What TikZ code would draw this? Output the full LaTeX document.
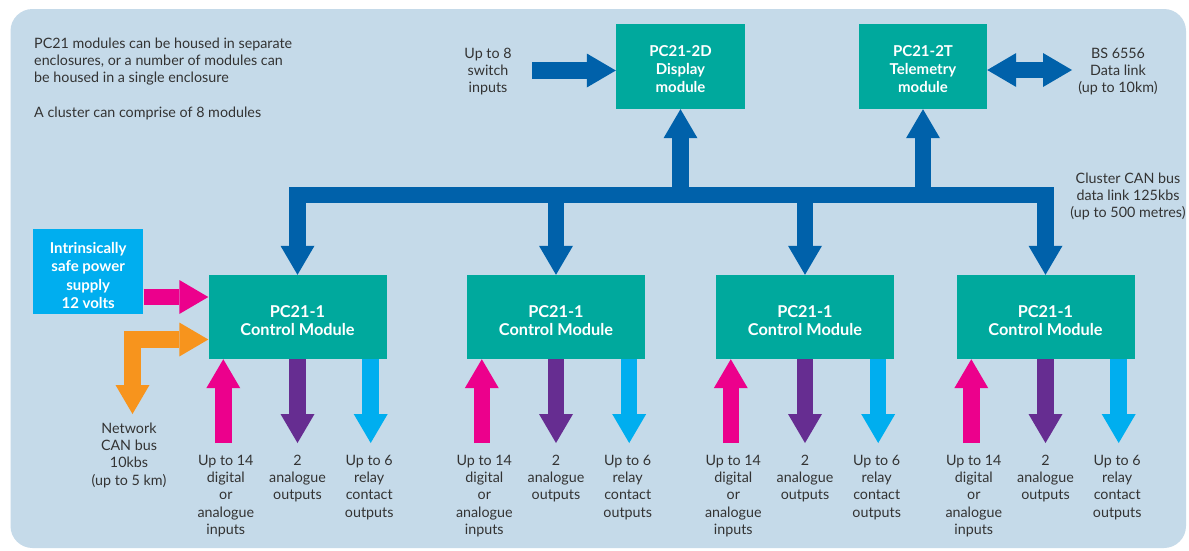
\documentclass[tikz,border=0pt]{standalone}
\usepackage{fontspec}
\setmainfont{Lato}
\usetikzlibrary{arrows.meta}
\definecolor{panelbg}{HTML}{C5DAE9}
\definecolor{modteal}{HTML}{00A99D}
\definecolor{busblue}{HTML}{0061AA}
\definecolor{pinkc}{HTML}{EC008C}
\definecolor{purplec}{HTML}{662D91}
\definecolor{cyanc}{HTML}{00AEEF}
\definecolor{orangec}{HTML}{F7941D}
\definecolor{txtc}{HTML}{333333}
\newcommand{\lift}[1]{\rule{0pt}{#1}}
\tikzset{
  bigtip/.tip={Triangle[width=34pt,length=29pt,line width=0pt]},
  module/.style={fill=modteal, text=white, font=\bfseries\fontsize{15}{18.3}\selectfont, align=center, inner sep=0pt},
  ctrlmod/.style={module, font=\bfseries\fontsize{16.3}{17.5}\selectfont, minimum width=178pt, minimum height=84pt},
  lbl/.style={text=txtc, font=\fontsize{14.3}{17.3}\selectfont, align=center, inner sep=0pt, anchor=north},
  fat/.style={line width=16.5pt, line join=miter},
  busline/.style={fat, draw=busblue},
}
\begin{document}
\begin{tikzpicture}[x=1pt,y=-1pt]
\useasboundingbox (0,0) rectangle (1189,550);
\fill[white] (0,0) rectangle (1189,550);
\fill[panelbg, rounded corners=22pt] (10.5,9) rectangle (1186,548);

% modules
\node[module, minimum width=129pt, minimum height=85pt] (disp) at (680.5,66.5) {\lift{16pt}PC21-2D\\Display\\module};
\node[module, minimum width=128pt, minimum height=85pt] (tele) at (923,66.5) {\lift{16pt}PC21-2T\\Telemetry\\module};
\foreach \n/\x in {m1/297.5, m2/556, m3/805, m4/1045.5}{
  \node[ctrlmod] (\n) at (\x,317) {\lift{19.5pt}PC21-1\\Control Module};
}
\node[module, fill=cyanc, minimum width=110.5pt, minimum height=85pt] (safe) at (88.2,271.5) {\lift{19pt}Intrinsically\\safe power\\supply\\12 volts};

% coordinates
\coordinate (busy) at (0,195);
\coordinate (low) at (0,443);
\coordinate (swstart) at (532,70.5);
\coordinate (bsend) at (1072,70);
\coordinate (pw) at (0,297);
\coordinate (orc) at (132.5,339.5);
\coordinate (netend) at (132.5,414);

% cluster bus
\draw[busline, bigtip-bigtip] (m1.north) -- (m1.north |- busy) -- (m4.north |- busy) -- (m4.north);
\draw[busline, -bigtip] (m2.north |- busy) -- (m2.north);
\draw[busline, -bigtip] (m3.north |- busy) -- (m3.north);
\draw[busline, -bigtip] (disp.south |- busy) -- (disp.south);
\draw[busline, -bigtip] (tele.south |- busy) -- (tele.south);

% switch inputs and data link
\draw[busline, -bigtip] (swstart) -- (disp.west |- swstart);
\draw[busline, bigtip-bigtip] (tele.east |- bsend) -- (bsend);

% power and network
\draw[fat, draw=pinkc, -bigtip] (safe.east |- pw) -- (m1.west |- pw);
\draw[fat, draw=orangec, bigtip-bigtip] (m1.west |- orc) -- (orc) -- (netend);

% io arrows
\foreach \n in {m1,m2,m3,m4}{
  \coordinate (\n-in) at ([xshift=15pt]\n.south west);
  \coordinate (\n-rl) at ([xshift=-16pt]\n.south east);
  \draw[fat, draw=pinkc, -bigtip] (\n-in |- low) -- (\n-in);
  \draw[fat, draw=purplec, -bigtip] (\n.south) -- (\n.south |- low);
  \draw[fat, draw=cyanc, -bigtip] (\n-rl) -- (\n-rl |- low);
  \node[lbl] (\n-lin) at ([xshift=2.5pt]\n-in |- 0,453) {\strut Up to 14\\digital\\or\\analogue\\inputs};
  \node[lbl] (\n-lout) at (\n.south |- 0,453) {\strut 2\\analogue\\outputs};
  \node[lbl] (\n-lrel) at ([xshift=-1.5pt]\n-rl |- 0,453) {\strut Up to 6\\relay\\contact\\outputs};
}

% texts
\node[lbl, anchor=north west, align=left] (note1) at (34,36) {\strut PC21 modules can be housed in separate\\enclosures, or a number of modules can\\be housed in a single enclosure};
\node[lbl, anchor=north west, align=left] (note2) at (34,105) {\strut A cluster can comprise of 8 modules};
\node[lbl] (swtxt) at (488,46) {\strut Up to 8\\switch\\inputs};
\node[lbl] (bstxt) at (1118,46) {\strut BS 6556\\Data link\\(up to 10km)};
\node[lbl] (cantxt) at (1128,171) {\strut Cluster CAN bus\\data link 125kbs\\(up to 500 metres)};
\node[lbl] (nettxt) at (129,421) {\strut Network\\CAN bus\\10kbs\\(up to 5 km)};
\end{tikzpicture}
\end{document}
